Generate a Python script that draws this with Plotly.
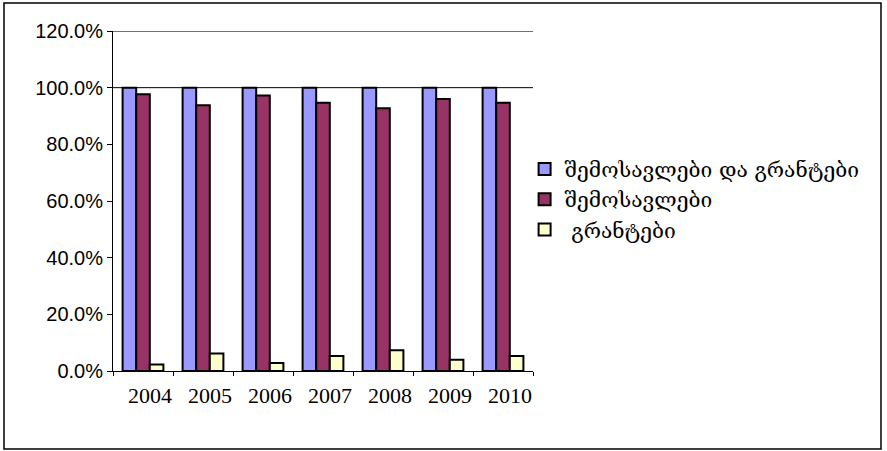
import plotly.graph_objects as go

years = ["2004", "2005", "2006", "2007", "2008", "2009", "2010"]
total = [1.0, 1.0, 1.0, 1.0, 1.0, 1.0, 1.0]
revenue = [0.977, 0.938, 0.972, 0.947, 0.927, 0.960, 0.947]
grants = [0.023, 0.062, 0.028, 0.053, 0.073, 0.040, 0.053]
names = ["შემოსავლები და გრანტები", "შემოსავლები", " გრანტები"]
colors = ["#9999FF", "#993366", "#FFFFCC"]
ytick_vals = [0, 0.2, 0.4, 0.6, 0.8, 1.0, 1.2]

fig = go.Figure()
for vals, name, col in zip([total, revenue, grants], names, colors):
    fig.add_trace(go.Bar(x=years, y=vals, name=name,
                         marker=dict(color=col, line=dict(color="black", width=2))))

fig.update_layout(
    width=887, height=451,
    margin=dict(l=113, r=354, t=31, b=80),
    paper_bgcolor="white", plot_bgcolor="white",
    barmode="group", bargap=0.32, bargroupgap=0,
    showlegend=True,
    legend=dict(x=0.98, y=0.505, xanchor="left", yanchor="middle",
                font=dict(family="DejaVu Serif", size=21, color="black"),
                itemsizing="constant", tracegroupgap=0, itemwidth=30,
                bgcolor="rgba(0,0,0,0)"),
    xaxis=dict(type="category", showline=True, linecolor="black", linewidth=1,
               ticks="outside", ticklen=4, tickcolor="black", tickson="boundaries",
               tickfont=dict(family="Liberation Serif", size=22, color="black"),
               showgrid=False, ticklabelshift=7, ticklabelstandoff=5),
    yaxis=dict(range=[0, 1.2], tickvals=ytick_vals, tickformat=".1%",
               showline=True, linecolor="black", linewidth=1,
               ticks="outside", ticklen=5, tickcolor="black",
               tickfont=dict(family="Liberation Sans", size=20, color="black"),
               showgrid=False, zeroline=False),
    shapes=[
        dict(type="line", xref="paper", yref="y", x0=0, x1=1, y0=1.2, y1=1.2,
             line=dict(color="#707070", width=2), layer="below"),
        dict(type="line", xref="paper", yref="y", x0=0, x1=1, y0=1.0, y1=1.0,
             line=dict(color="black", width=1), layer="below"),
        dict(type="rect", xref="paper", yref="paper",
             x0=(4 - 113) / 420, x1=(881 - 113) / 420,
             y0=-(449 - 371) / 340, y1=(371 - 3) / 340,
             line=dict(color="black", width=1.5), layer="below"),
    ],
)

fig.write_html("out.html", config={"displayModeBar": False},
               post_script="document.body.style.margin='0';")
